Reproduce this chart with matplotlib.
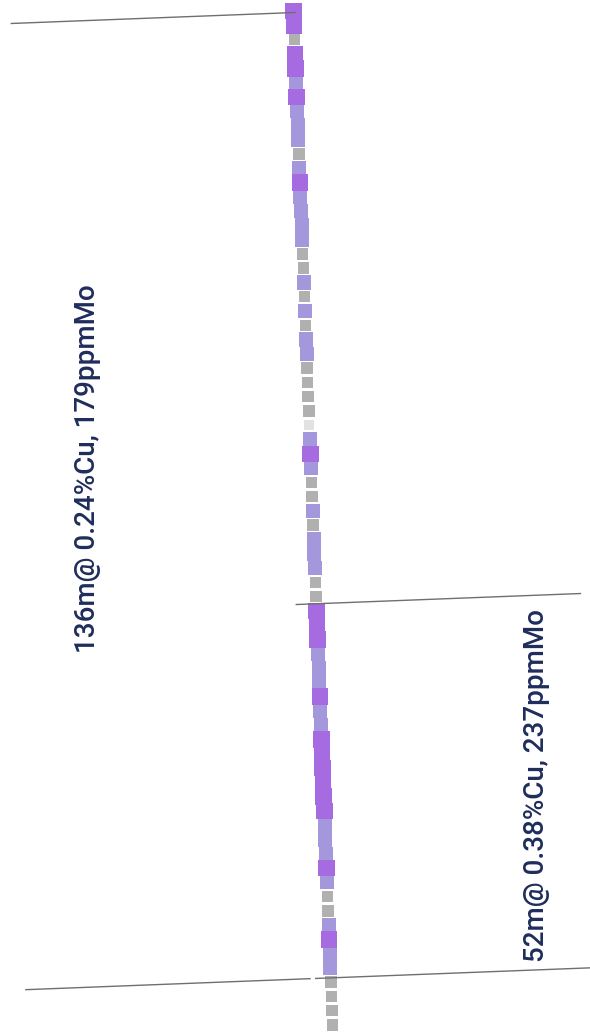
import matplotlib.pyplot as plt
import numpy as np

plt.rcParams['font.family'] = ['Roboto', 'DejaVu Sans']

# 2 m samples down the hole, grade class per sample
# hi = dark purple, mid = light purple, low = grey, nil = pale grey
sample_len = 2.0
grade_class = ['hi', 'hi', 'low', 'hi', 'hi', 'mid', 'hi', 'mid', 'mid', 'mid',
               'low', 'mid', 'hi', 'mid', 'mid', 'mid', 'mid', 'low', 'low', 'mid',
               'low', 'mid', 'low', 'mid', 'mid', 'low', 'low', 'low', 'low', 'nil',
               'mid', 'hi', 'mid', 'low', 'low', 'mid', 'low', 'mid', 'mid', 'mid',
               'low', 'low', 'hi', 'hi', 'hi', 'mid', 'mid', 'mid', 'hi', 'mid',
               'mid', 'hi', 'hi', 'hi', 'hi', 'hi', 'hi', 'mid', 'mid', 'mid',
               'hi', 'mid', 'low', 'low', 'mid', 'hi', 'mid', 'mid', 'low', 'low',
               'low', 'low']

# interval boundaries (depth) and labels
cut_depths = [1.2, 84.0, 136.4]
interval_labels = ['136m@ 0.24%Cu, 179ppmMo', '52m@ 0.38%Cu, 237ppmMo']
label_x = [12.3, 75.2]
label_depth = [65.1, 109.5]

# hole geometry
collar_x = 41.04
drift = 0.0387   # x shift per m of depth

colors = {'hi': '#a66be0', 'mid': '#a597dc', 'low': '#b0b0b0', 'nil': '#e2e2e2'}
sizes = {'hi': 2.31, 'mid': 1.96, 'low': 1.61, 'nil': 1.4}
order = {'nil': 1, 'low': 2, 'mid': 3, 'hi': 4}

def hole_x(d):
    return collar_x + drift * np.asarray(d)

fig = plt.figure(figsize=(5.9, 10.33), dpi=100)
ax = fig.add_axes([0, 0, 1, 1])
ax.set_xlim(0, 82.63)
ax.set_ylim(144.12, -0.56)
ax.axis('off')

mid = np.arange(len(grade_class)) * sample_len + sample_len / 2
for cls in ['nil', 'low', 'mid', 'hi']:
    idx = [i for i, c in enumerate(grade_class) if c == cls]
    if not idx:
        continue
    d = mid[idx]
    w = sizes[cls]
    h = sample_len if cls == 'mid' else w
    ax.bar(hole_x(d), h, width=w, bottom=d - h / 2, color=colors[cls],
           linewidth=0, zorder=order[cls])

# interval lines, perpendicular to the hole
def cut_line(d, t0, t1):
    t = np.array([t0, t1])
    x = hole_x(d) + t
    y = d - drift * t
    ax.plot(x, y, color='#6f6f6f', lw=1.0, zorder=6)

cut_line(cut_depths[0], -39.5, 0.3)
cut_line(cut_depths[1], -2.8, 37.0)
cut_line(cut_depths[2], -42.7, -2.9)
cut_line(cut_depths[2], -2.1, 36.3)

for k in range(2):
    ax.text(label_x[k], label_depth[k], interval_labels[k], rotation=90,
            ha='center', va='center', fontsize=20, fontweight='medium',
            color='#1f2d5c')

plt.savefig('out.png', dpi=100)
